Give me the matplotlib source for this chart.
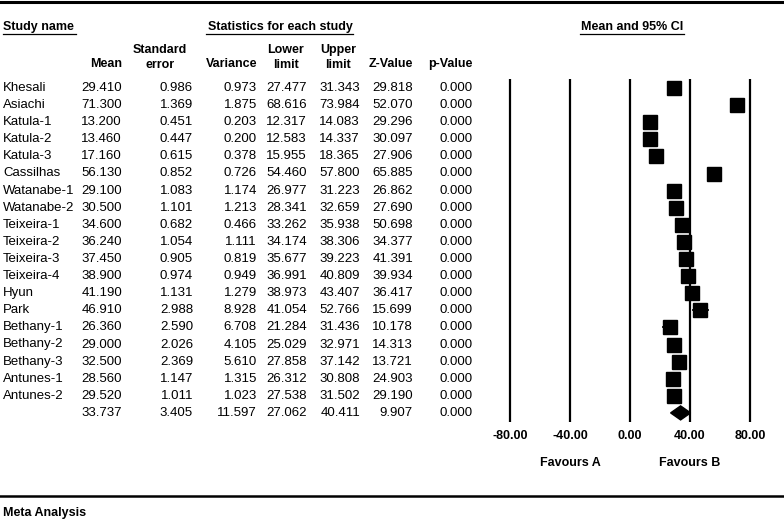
import numpy as np
import matplotlib.pyplot as plt
from matplotlib.patches import Polygon

studies = ["Khesali", "Asiachi", "Katula-1", "Katula-2", "Katula-3", "Cassilhas",
           "Watanabe-1", "Watanabe-2", "Teixeira-1", "Teixeira-2", "Teixeira-3",
           "Teixeira-4", "Hyun", "Park", "Bethany-1", "Bethany-2", "Bethany-3",
           "Antunes-1", "Antunes-2"]
means = [29.410, 71.300, 13.200, 13.460, 17.160, 56.130, 29.100, 30.500, 34.600,
         36.240, 37.450, 38.900, 41.190, 46.910, 26.360, 29.000, 32.500, 28.560, 29.520]
std_err = [0.986, 1.369, 0.451, 0.447, 0.615, 0.852, 1.083, 1.101, 0.682, 1.054,
           0.905, 0.974, 1.131, 2.988, 2.590, 2.026, 2.369, 1.147, 1.011]
variance = [0.973, 1.875, 0.203, 0.200, 0.378, 0.726, 1.174, 1.213, 0.466, 1.111,
            0.819, 0.949, 1.279, 8.928, 6.708, 4.105, 5.610, 1.315, 1.023]
lower = [27.477, 68.616, 12.317, 12.583, 15.955, 54.460, 26.977, 28.341, 33.262,
         34.174, 35.677, 36.991, 38.973, 41.054, 21.284, 25.029, 27.858, 26.312, 27.538]
upper = [31.343, 73.984, 14.083, 14.337, 18.365, 57.800, 31.223, 32.659, 35.938,
         38.306, 39.223, 40.809, 43.407, 52.766, 31.436, 32.971, 37.142, 30.808, 31.502]
z_vals = [29.818, 52.070, 29.296, 30.097, 27.906, 65.885, 26.862, 27.690, 50.698,
          34.377, 41.391, 39.934, 36.417, 15.699, 10.178, 14.313, 13.721, 24.903, 29.190]
p_vals = [0.000] * 19

# pooled estimate
pooled = dict(mean=33.737, se=3.405, var=11.597, lo=27.062, hi=40.411, z=9.907, p=0.000)

ticks = [-80, -40, 0, 40, 80]

W, H = 784, 521
row0, row_h = 88, 17.1
fs_bold = 9
fs = 9.5
font = "Liberation Sans"

fig = plt.figure(figsize=(W / 100, H / 100), dpi=100, facecolor="white")
tab = fig.add_axes([0, 0, 1, 1])
tab.set_xlim(0, W)
tab.set_ylim(H, 0)
tab.axis("off")


def txt(x, y, s, ha="right", bold=False, **kw):
    tab.text(x, y, s, ha=ha, va="center", fontsize=fs_bold if bold else fs,
             family=font, fontweight="bold" if bold else "normal", **kw)


# frame lines
tab.plot([0, W], [2, 2], color="black", lw=2.2)
tab.plot([0, W], [496, 496], color="black", lw=1.8)

# section headers, underlined
txt(3, 27, "Study name", ha="left", bold=True)
tab.plot([3, 76], [34, 34], color="black", lw=0.9)
txt(280, 27, "Statistics for each study", ha="center", bold=True)
tab.plot([206, 353], [34, 34], color="black", lw=0.9)
txt(632, 27, "Mean and 95% CI", ha="center", bold=True)
tab.plot([580, 684], [34, 34], color="black", lw=0.9)

# column headers
col_x = [122, 193, 257, 307, 360, 413, 473]
txt(122, 64, "Mean", bold=True)
txt(160, 50, "Standard", ha="center", bold=True)
txt(160, 65, "error", ha="center", bold=True)
txt(257, 64, "Variance", bold=True)
txt(286, 50, "Lower", ha="center", bold=True)
txt(286, 65, "limit", ha="center", bold=True)
txt(338, 50, "Upper", ha="center", bold=True)
txt(338, 65, "limit", ha="center", bold=True)
txt(413, 64, "Z-Value", bold=True)
txt(473, 64, "p-Value", bold=True)

# table rows
for i, name in enumerate(studies):
    y = row0 + i * row_h
    txt(3, y, name, ha="left")
    vals = [means[i], std_err[i], variance[i], lower[i], upper[i], z_vals[i], p_vals[i]]
    for x, v in zip(col_x, vals):
        txt(x, y, f"{v:.3f}")

y_sum = row0 + len(studies) * row_h
for x, v in zip(col_x, [pooled["mean"], pooled["se"], pooled["var"], pooled["lo"],
                        pooled["hi"], pooled["z"], pooled["p"]]):
    txt(x, y_sum, f"{v:.3f}")

txt(3, 513, "Meta Analysis", ha="left", bold=True)

# forest plot axes: 0 at x=630px, 1.5 px per unit
x0_px, px_unit = 630, 1.5
fx0 = 480
ax = fig.add_axes([fx0 / W, 0, (W - fx0) / W, 1])
ax.set_xlim((fx0 - x0_px) / px_unit, (W - x0_px) / px_unit)
ax.set_ylim((H - row0) / row_h, -row0 / row_h)
ax.axis("off")
ax.patch.set_alpha(0)

n = len(studies)
for t in ticks:
    ax.plot([t, t], [-0.53, n + 0.53], color="black", lw=1.6, solid_capstyle="butt")
    ax.text(t, n + 1.35, f"{t:.2f}", ha="center", va="center", fontsize=fs_bold,
            family=font, fontweight="bold")

rows = np.arange(n)
ax.hlines(rows, lower, upper, color="black", lw=1.2)
ax.plot(means, rows, "s", color="black", markersize=10, zorder=3)

# summary diamond
dh = 0.41
diamond = Polygon([[pooled["lo"], n], [pooled["mean"], n - dh],
                   [pooled["hi"], n], [pooled["mean"], n + dh]],
                  closed=True, facecolor="black", edgecolor="black", zorder=3)
ax.add_patch(diamond)

ax.text(-40, n + 2.95, "Favours A", ha="center", va="center", fontsize=fs_bold,
        family=font, fontweight="bold")
ax.text(40, n + 2.95, "Favours B", ha="center", va="center", fontsize=fs_bold,
        family=font, fontweight="bold")

fig.savefig("out.png", dpi=100, facecolor="white")
